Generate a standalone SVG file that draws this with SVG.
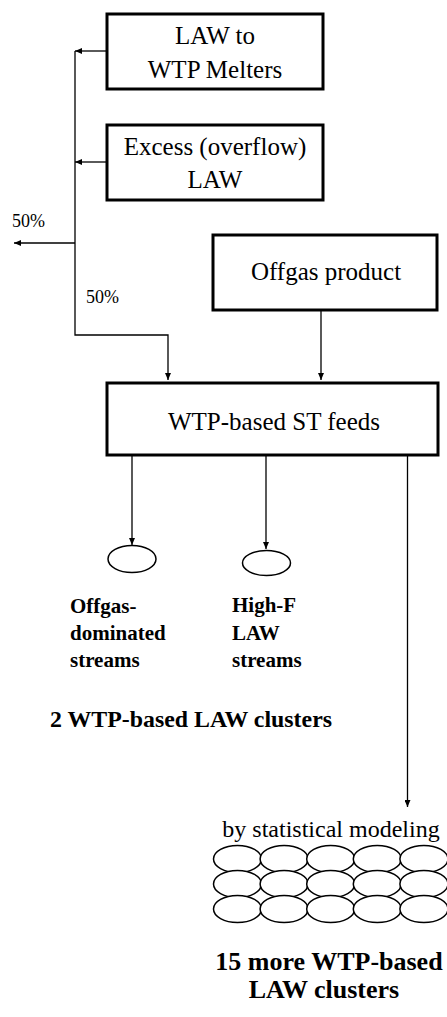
<svg xmlns="http://www.w3.org/2000/svg" width="447" height="1017" viewBox="0 0 447 1017">
<style>
.box{fill:#fff;stroke:#000;stroke-width:3}
.ln{fill:none;stroke:#000;stroke-width:1.3}
.el{fill:#fff;stroke:#000;stroke-width:1.5}
text{font-family:'Liberation Serif','Times New Roman',Tinos,'DejaVu Serif',serif;fill:#000}
.t{font-size:25px;text-anchor:middle}
.p{font-size:18px}
.b{font-weight:bold;font-size:21px}
.bc{font-weight:bold;font-size:26px;text-anchor:middle}
</style>
<defs>
<marker id="ah" markerWidth="7" markerHeight="6" refX="7" refY="3" orient="auto" markerUnits="userSpaceOnUse">
<path d="M0,0 L7,3 L0,6 z" fill="#000"/>
</marker>
</defs>
<rect width="447" height="1017" fill="#fff"/>
<g id="connectors">
<path class="ln" d="M107,51 L75,51" marker-end="url(#ah)"/>
<path class="ln" d="M107,162 L75,162" marker-end="url(#ah)"/>
<path class="ln" d="M75,51 L75,335 L168,335 L168,380" marker-end="url(#ah)"/>
<path class="ln" d="M75,243 L14,243" marker-end="url(#ah)"/>
<path class="ln" d="M321,310 L321,380" marker-end="url(#ah)"/>
<path class="ln" d="M132,455 L132,545" marker-end="url(#ah)"/>
<path class="ln" d="M266,455 L266,549" marker-end="url(#ah)"/>
<path class="ln" d="M407.5,455 L407.5,807" marker-end="url(#ah)"/>
<text class="p" x="12" y="227" font-family="Liberation Serif, serif">50%</text>
<text class="p" x="86" y="303" font-family="Liberation Serif, serif">50%</text>
</g>
<g id="law-melters">
<rect class="box" x="107" y="14" width="216" height="75"/>
<text class="t" x="215" y="44">LAW to</text>
<text class="t" x="215" y="78">WTP Melters</text>
</g>
<g id="excess-law">
<rect class="box" x="107" y="125" width="216" height="75"/>
<text class="t" x="215" y="155">Excess (overflow)</text>
<text class="t" x="215" y="188">LAW</text>
</g>
<g id="offgas-product">
<rect class="box" x="213" y="235" width="224" height="75"/>
<text class="t" x="326" y="280">Offgas product</text>
</g>
<g id="wtp-feeds">
<rect class="box" x="107" y="383" width="331" height="72"/>
<text class="t" x="274" y="430">WTP-based ST feeds</text>
</g>
<g id="offgas-streams">
<ellipse class="el" cx="132" cy="559" rx="24" ry="13.5"/>
<text class="b" x="70" y="613">Offgas-</text>
<text class="b" x="70" y="640">dominated</text>
<text class="b" x="70" y="667">streams</text>
</g>
<g id="highf-streams">
<ellipse class="el" cx="266.5" cy="563" rx="24" ry="12.5"/>
<text class="b" x="232" y="612">High-F</text>
<text class="b" x="232" y="640">LAW</text>
<text class="b" x="232" y="667">streams</text>
</g>
<g id="two-clusters">
<text class="b" x="50" y="727" style="font-size:23px" textLength="282" lengthAdjust="spacingAndGlyphs">2 WTP-based LAW clusters</text>
</g>
<g id="statistical-clusters">
<text class="t" x="331" y="837" style="font-size:24px">by statistical modeling</text>
<g>
<ellipse class="el" cx="237.5" cy="859" rx="24" ry="13.5"/>
<ellipse class="el" cx="284.1" cy="859" rx="24" ry="13.5"/>
<ellipse class="el" cx="330.7" cy="859" rx="24" ry="13.5"/>
<ellipse class="el" cx="377.3" cy="859" rx="24" ry="13.5"/>
<ellipse class="el" cx="423.9" cy="859" rx="24" ry="13.5"/>
<ellipse class="el" cx="237.5" cy="884" rx="24" ry="13.5"/>
<ellipse class="el" cx="284.1" cy="884" rx="24" ry="13.5"/>
<ellipse class="el" cx="330.7" cy="884" rx="24" ry="13.5"/>
<ellipse class="el" cx="377.3" cy="884" rx="24" ry="13.5"/>
<ellipse class="el" cx="423.9" cy="884" rx="24" ry="13.5"/>
<ellipse class="el" cx="237.5" cy="909" rx="24" ry="13.5"/>
<ellipse class="el" cx="284.1" cy="909" rx="24" ry="13.5"/>
<ellipse class="el" cx="330.7" cy="909" rx="24" ry="13.5"/>
<ellipse class="el" cx="377.3" cy="909" rx="24" ry="13.5"/>
<ellipse class="el" cx="423.9" cy="909" rx="24" ry="13.5"/>
</g>
<text class="bc" x="329" y="970">15 more WTP-based</text>
<text class="bc" x="324" y="998">LAW clusters</text>
</g>
</svg>
